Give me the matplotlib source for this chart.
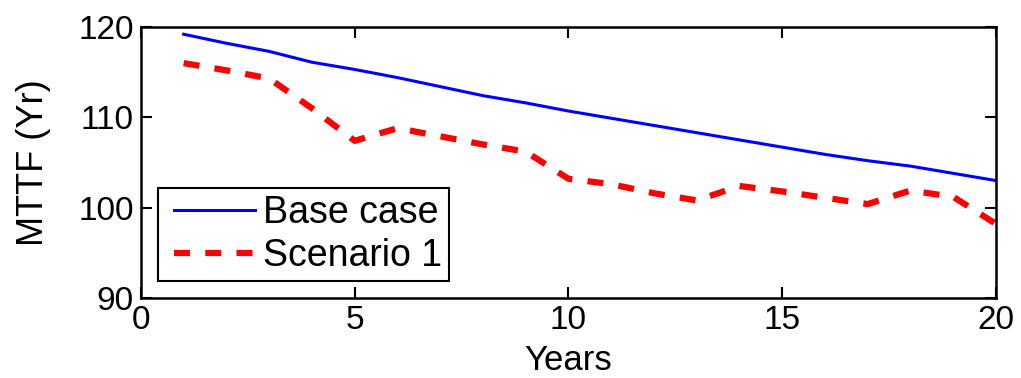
import matplotlib
matplotlib.use("Agg")
import matplotlib.pyplot as plt
from matplotlib.legend_handler import HandlerLine2D

plt.rcParams['font.family'] = ['Liberation Sans', 'DejaVu Sans']
plt.rcParams['lines.scale_dashes'] = False

years = list(range(1, 21))
base_case = [119.2, 118.2, 117.3, 116.1, 115.3, 114.4, 113.4, 112.4, 111.6, 110.7,
             109.9, 109.1, 108.3, 107.5, 106.7, 105.9, 105.2, 104.6, 103.8, 103.0]
scenario_1 = [116.0, 115.2, 114.3, 111.0, 107.4, 108.8, 107.9, 107.0, 106.2, 103.2,
              102.6, 101.6, 100.8, 102.4, 101.8, 101.1, 100.4, 101.9, 101.2, 98.2]

x_ticks = [0, 5, 10, 15, 20]
y_ticks = [90, 100, 110, 120]


class InsetLineHandler(HandlerLine2D):
    """Legend line that starts a little inside the handle box."""

    def __init__(self, inset=7.0, **kw):
        super().__init__(**kw)
        self.inset = inset

    def create_artists(self, legend, orig_handle, xdescent, ydescent,
                       width, height, fontsize, trans):
        return super().create_artists(legend, orig_handle,
                                      xdescent - self.inset, ydescent,
                                      width - self.inset, height,
                                      fontsize, trans)


fig = plt.figure(figsize=(10.21, 3.78), dpi=100)
ax = fig.add_axes([0.138, 0.2116, 0.8375, 0.717])

l1, = ax.plot(years, base_case, color='#0000ff', lw=2.2, label='Base case')
l2, = ax.plot(years, scenario_1, color='#ff0000', lw=4.5, dashes=(11.5, 11.0),
              label='Scenario 1')

ax.set_xlim(0, 20)
ax.set_ylim(90, 120)
ax.set_xticks(x_ticks)
ax.set_yticks(y_ticks)
ax.tick_params(direction='in', length=8, width=1.5, labelsize=24,
               top=True, right=True, pad=5)
for s in ax.spines.values():
    s.set_linewidth(1.8)

ax.set_xlabel('Years', fontsize=25, labelpad=6)
ax.set_ylabel('MTTF (Yr)', fontsize=26, labelpad=20)

leg = ax.legend(loc='lower left', fontsize=27, handlelength=2.4,
                fancybox=False, edgecolor='black', framealpha=1,
                borderaxespad=0.45, labelspacing=0.2, handletextpad=0.22,
                borderpad=0.18,
                handler_map={l1: InsetLineHandler(), l2: InsetLineHandler()})
leg.get_frame().set_linewidth(1.5)

fig.savefig('out.png', dpi=100)
